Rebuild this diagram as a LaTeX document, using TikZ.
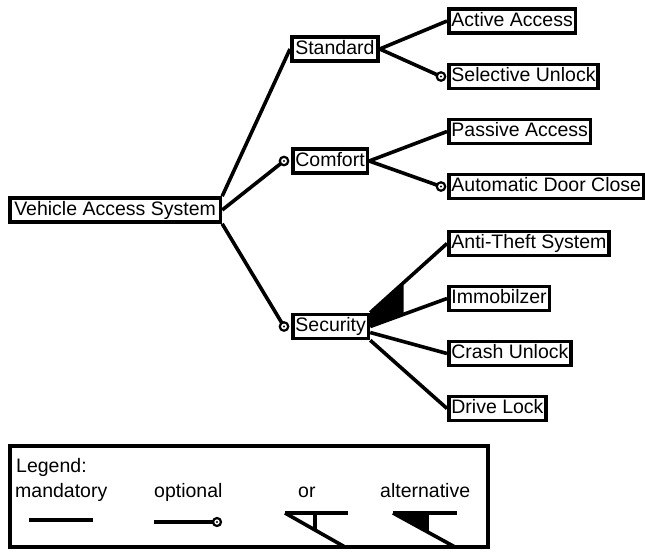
\documentclass[tikz,border=0pt]{standalone}
\usepackage{fontspec}
\setmainfont{Liberation Sans}
\usetikzlibrary{calc}
\begin{document}
\begin{tikzpicture}[x=1pt,y=-1pt,
  feat/.style={draw,fill=white,line width=3.6pt,inner xsep=2.6pt,inner ysep=0pt,
    minimum height=24pt,text height=14pt,text depth=4pt,anchor=west,
    font=\fontsize{19.5}{22}\selectfont},
  conn/.style={line width=3.6pt},
  optc/.style={circle,draw,fill=white,line width=2.2pt,inner sep=0pt,minimum size=8.5pt},
  ltext/.style={anchor=base west,inner sep=0pt,font=\fontsize{19.5}{22}\selectfont}]
\useasboundingbox (0,0) rectangle (645,552);
% features
\node[feat,inner xsep=4.5pt] (vas) at (8,210) {Vehicle Access System};
\node[feat,inner xsep=3.5pt] (std) at (290,49) {Standard};
\node[feat] (com) at (291,161) {Comfort};
\node[feat] (sec) at (291,326.5) {Security};
\node[feat] (act) at (447,21) {Active Access};
\node[feat] (sel) at (447,76.5) {Selective Unlock};
\node[feat] (pas) at (447,131.5) {Passive Access};
\node[feat] (aut) at (447,186.5) {Automatic Door Close};
\node[feat] (ats) at (447,243.5) {Anti-Theft System};
\node[feat] (imm) at (447,298.5) {Immobilzer};
\node[feat] (cra) at (447,353.5) {Crash Unlock};
\node[feat] (drv) at (447,408.5) {Drive Lock};
% optional end points
\coordinate (ocom) at ([xshift=-7pt]com.west);
\coordinate (osec) at ([xshift=-7pt]sec.west);
\coordinate (osel) at ([xshift=-6pt]sel.west);
\coordinate (oaut) at ([xshift=-6pt]aut.west);
% connectors
\draw[conn] (vas.north east) -- (std.west);
\draw[conn] (vas.east) -- (ocom);
\draw[conn] (vas.south east) -- (osec);
\draw[conn] (std.east) -- (act.west);
\draw[conn] (std.east) -- (osel);
\draw[conn] (com.east) -- (pas.west);
\draw[conn] (com.east) -- (oaut);
\draw[conn] (sec.north east) -- (ats.west);
\draw[conn] (sec.east) -- (imm.west);
\draw[conn] ([yshift=-6pt]sec.east) -- (cra.west);
\draw[conn] (sec.south east) -- (drv.west);
% alternative wedge
\fill (sec.north east) -- ($(sec.north east)!0.436!(ats.west)$) -- ($(sec.east)!0.436!(imm.west)$) -- (sec.east) -- cycle;
% optional circles
\foreach \c in {ocom,osec,osel,oaut}{
  \node[optc] at (\c) {};
  \fill (\c) circle (1.2pt);
}
% legend
\draw[line width=3.6pt] (9.8,445.8) rectangle (488.2,547.2);
\node[ltext] (lg) at (16,472) {Legend:};
\node[ltext] (lm) at (15,497) {mandatory};
\node[ltext] (lo) at (154,497) {optional};
\node[ltext] (lr) at (298,497) {or};
\node[ltext] (la) at (380,497) {alternative};
% legend symbols
\coordinate (m1) at (29,520); \coordinate (m2) at (93,520);
\draw[conn] (m1) -- (m2);
\coordinate (p1) at (154,522); \coordinate (p2) at (217,522);
\draw[conn] (p1) -- (p2);
\node[optc,minimum size=8pt] at (p2) {};
\fill (p2) circle (1.1pt);
% or
\coordinate (r0) at (285,513); \coordinate (r1) at (348,513); \coordinate (r2) at (345,547);
\coordinate (rv) at ($(r0)!0.5!(r2)$);
\draw[conn] (r0) -- (r1);
\draw[conn] (r0) -- (r2);
\draw[conn] (rv|-r0) -- (rv);
% alternative
\coordinate (a0) at (393,513); \coordinate (a1) at (457,513); \coordinate (a2) at (455,547);
\coordinate (av) at ($(a0)!0.55!(a2)$);
\fill (a0) -- (av|-a0) -- (av) -- cycle;
\draw[conn] (a0) -- (a1);
\draw[conn] (a0) -- (a2);
\draw[conn] (av|-a0) -- (av);
\end{tikzpicture}
\end{document}
